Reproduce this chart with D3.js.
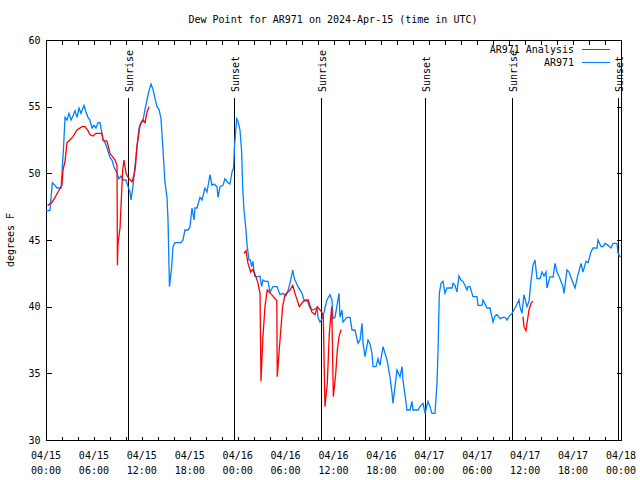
<!DOCTYPE html>
<html>
<head>
<meta charset="utf-8">
<script src="https://cdn.jsdelivr.net/npm/d3@7"></script>
<style>
  html, body { margin: 0; padding: 0; background: #fff; }
  svg { display: block; }
  text { font-family: "DejaVu Sans Mono", "Liberation Mono", monospace; font-size: 10px; fill: #000; }
</style>
</head>
<body>
<svg id="chart" width="640" height="480"></svg>
<script>
// ---------------- DATA ----------------
const title = "Dew Point for AR971 on 2024-Apr-15 (time in UTC)";
const yLabel = "degrees F";
const seriesNames = ["AR971 Analysis", "AR971"];
const seriesColors = ["#ff0000", "#0080ff"];
const startUTC = Date.UTC(2024, 3, 15, 0, 0);
const spanHours = 72;
const yTicks = [30, 35, 40, 45, 50, 55, 60];

// AR971 observations: hours since 2024-04-15 00:00 UTC, dew point (F)
const obsHours = [0,0.5,0.79,1.13,1.38,1.88,2.0,2.2,2.38,2.63,2.88,3.13,3.38,3.63,3.88,4.13,4.38,4.76,5.0,5.26,5.5,5.76,6.01,6.26,6.51,6.76,7.01,7.14,7.39,7.64,8.01,8.26,8.51,8.89,9.14,9.39,9.64,10.02,10.27,10.52,10.64,10.89,11.14,11.39,11.65,11.9,12.15,12.4,12.65,12.9,13.15,13.4,13.65,13.9,14.15,14.4,14.65,14.9,15.15,15.28,15.4,15.46,15.74,15.9,16.15,16.53,16.9,17.15,17.4,17.78,18.03,18.28,18.53,18.66,18.91,19.28,19.53,19.91,20.16,20.54,20.79,21.04,21.41,21.54,21.79,22.16,22.41,22.79,23.04,23.29,23.48,23.6,23.73,23.88,24.04,24.29,24.5,24.63,24.79,25.0,25.2,25.42,25.6,25.74,25.92,26.04,26.17,26.55,26.8,27.0,27.17,27.42,27.8,28.05,28.42,28.68,28.93,29.3,29.67,30.05,30.3,30.55,30.9,31.06,31.18,31.55,32.06,32.3,32.68,33.06,33.43,33.93,34.06,34.31,34.68,34.93,35.18,35.56,35.81,35.94,36.19,36.44,36.69,36.81,37.06,37.19,37.69,38.07,38.32,38.69,39.07,39.32,39.57,39.7,39.95,40.32,40.57,40.82,40.95,41.32,41.57,41.82,42.2,42.45,42.7,43.07,43.33,43.45,43.7,43.95,44.33,44.58,44.7,44.95,45.2,45.58,45.83,45.95,46.58,46.83,47.21,47.46,47.83,48.08,48.33,48.71,48.96,49.09,49.25,49.46,49.71,49.96,50.21,50.59,50.84,50.96,51.21,51.46,51.71,51.96,52.21,52.46,52.72,52.84,53.09,53.34,53.46,53.97,54.09,54.59,54.72,54.97,55.22,55.6,55.97,56.22,56.47,56.85,57.22,57.48,57.73,57.98,58.35,58.73,58.98,59.23,59.35,59.6,59.85,60.23,60.48,60.73,60.98,61.23,61.48,61.86,62.11,62.36,62.61,62.73,63.11,63.49,63.74,63.99,64.36,64.74,64.86,65.24,65.49,65.86,66.24,66.62,66.99,67.24,67.62,67.87,68.24,68.5,69.0,69.12,69.5,69.75,70.0,70.38,70.75,71.0,71.5,71.63,71.88,72.0];
const obsValues = [47.2,47.2,49.3,49.1,48.9,48.9,50.0,52.0,54.2,54.0,54.5,54.0,54.3,54.7,54.2,54.9,54.5,55.1,54.6,54.2,54.0,53.4,53.6,53.4,53.8,53.8,53.0,52.5,52.3,51.9,51.2,51.0,50.5,50.0,49.6,49.8,49.5,49.5,49.0,48.6,48.0,49.0,50.5,52.0,53.4,53.8,54.0,54.8,55.5,56.2,56.7,56.3,55.6,55.0,54.8,54.1,51.75,49.3,48.2,46.5,43.1,41.5,43.0,44.5,44.8,44.8,44.8,45.0,45.75,45.75,46.0,47.4,46.5,47.4,47.4,48.2,48.0,48.9,48.6,49.9,49.1,49.2,49.0,48.2,49.0,49.1,49.6,49.3,49.2,50.1,50.4,52.0,53.0,54.1,53.9,53.25,51.6,48.9,47.25,46.0,44.5,43.5,43.5,43.0,43.4,42.6,42.25,42.25,42.3,41.5,42.0,41.9,41.9,41.1,41.5,41.5,41.5,40.9,41.0,40.8,41.2,41.75,42.75,42.2,42.0,41.5,41.0,40.5,40.5,39.9,39.75,39.9,39.2,38.85,39.2,39.9,40.5,40.9,40.5,39.1,39.2,40.1,41.0,39.2,39.75,38.85,39.2,39.2,38.25,38.25,37.25,37.5,38.75,37.25,36.25,37.5,37.2,36.5,35.5,35.5,36.1,35.6,37.0,36.5,36.0,34.75,33.5,32.75,34.0,35.25,34.75,35.5,34.5,33.4,32.25,32.25,32.9,32.25,32.25,32.5,32.75,32.0,32.9,32.5,32.0,32.0,34.25,36.75,41.0,41.75,41.9,41.0,41.4,41.4,41.4,41.75,41.6,41.1,42.3,42.0,41.9,41.6,41.25,41.5,41.5,41.0,40.75,40.75,40.1,40.1,40.5,40.2,39.9,39.9,38.85,39.3,39.4,39.1,39.2,39.2,39.0,39.25,39.5,39.9,40.2,40.5,40.0,39.5,40.9,40.0,40.4,41.9,43.1,43.5,42.1,42.1,42.6,42.3,42.6,41.4,42.25,42.2,43.25,42.6,42.1,41.5,41.0,42.75,42.6,42.0,41.4,42.4,43.25,42.6,43.4,43.3,44.1,44.4,44.4,45.0,44.5,44.5,44.75,44.6,44.4,44.75,44.75,44.0,43.75,43.7];

// AR971 Analysis: null marks a gap
const anaHours = [0.2,0.71,1.13,1.5,2.0,2.13,2.38,2.63,3.0,3.38,3.88,4.51,4.88,5.26,5.5,5.89,6.26,6.51,7.01,7.14,7.64,8.01,8.39,8.64,8.89,8.92,8.94,9.02,9.27,9.39,9.6,9.77,10.02,10.27,10.77,11.02,11.2,11.39,11.77,12.15,12.4,12.65,12.9,
  13.0,
  24.79,25.04,25.29,25.63,25.92,26.29,26.55,26.8,26.92,27.14,27.42,27.7,28.26,28.68,28.9,28.96,29.3,29.63,29.93,30.55,30.89,31.18,31.72,32.22,32.85,33.28,33.68,33.97,34.52,34.72,34.93,35.22,35.48,35.78,35.98,36.28,36.48,36.69,36.94,37.0,
  37.2,
  59.73,59.85,60.1,60.23,60.48,60.73,60.98];
const anaValues = [47.6,47.8,48.2,48.6,49.1,50.25,50.9,52.3,52.5,52.75,53.25,53.5,53.5,53.2,52.9,52.8,53.0,53.0,53.0,52.5,52.4,51.5,51.2,51.0,50.6,47.1,43.1,44.75,45.9,47.5,50.25,51.0,50.0,49.7,49.35,49.9,50.5,52.0,53.6,54.0,53.8,54.6,55.0,
  null,
  44.0,44.2,43.25,42.6,42.8,42.25,41.75,41.0,34.4,37.5,40.0,41.25,40.9,40.6,40.5,34.75,37.5,40.0,40.9,41.25,41.6,41.0,40.0,40.4,40.5,39.6,39.4,40.0,39.6,39.25,32.5,34.25,38.0,40.0,33.25,35.0,36.75,37.75,38.25,38.25,
  null,
  39.25,38.5,38.2,38.75,39.75,40.25,40.4];

// Sunrise / sunset, hours since start
const sunHours = [10.3, 23.55, 34.4, 47.5, 58.3, 71.6];
const sunLabels = ["Sunrise", "Sunset", "Sunrise", "Sunset", "Sunrise", "Sunset"];

// ---------------- CHART ----------------
const svg = d3.select("#chart");
const L = 46, R = 621, T = 40, B = 440;
const H = 3600 * 1000;
const toDate = h => new Date(startUTC + h * H);

const x = d3.scaleUtc().domain([toDate(0), toDate(spanHours)]).range([L, R]);
const y = d3.scaleLinear().domain([30, 60]).range([B, T]);

// frame
svg.append("rect").attr("x", L + 0.5).attr("y", T + 0.5).attr("width", R - L).attr("height", B - T)
  .attr("fill", "none").attr("stroke", "#000").attr("stroke-width", 1).attr("shape-rendering", "crispEdges");

// x ticks every 2h
const xTickVals = d3.range(0, spanHours + 0.001, 2).map(toDate);
const xLabelEvery = 6;
const fmtDay = d3.utcFormat("%m/%d"), fmtTime = d3.utcFormat("%H:%M");

const xAxis = svg.append("g").attr("transform", `translate(0,${B + 0.5})`)
  .call(d3.axisBottom(x).tickValues(xTickVals).tickSize(-4).tickPadding(10).tickFormat(() => ""));
const xAxisTop = svg.append("g").attr("transform", `translate(0,${T + 0.5})`)
  .call(d3.axisTop(x).tickValues(xTickVals).tickSize(-4).tickFormat(() => ""));
[xAxis, xAxisTop].forEach(g => {
  g.select(".domain").remove();
  g.selectAll("line").attr("stroke", "#000").attr("shape-rendering", "crispEdges");
  g.selectAll("text").remove();
});

// x labels (two lines)
const labelDates = d3.range(0, spanHours + 0.001, xLabelEvery).map(toDate);
const xl = svg.append("g").selectAll("text").data(labelDates).join("text")
  .attr("x", d => x(d)).attr("y", 459).attr("text-anchor", "middle");
xl.append("tspan").attr("x", d => x(d)).attr("dy", 0).text(d => fmtDay(d));
xl.append("tspan").attr("x", d => x(d)).attr("dy", 15).text(d => fmtTime(d));

// y axes
const yAxisL = svg.append("g").attr("transform", `translate(${L + 0.5},0)`)
  .call(d3.axisLeft(y).tickValues(yTicks).tickSize(-5).tickPadding(8).tickFormat(d3.format("d")));
const yAxisR = svg.append("g").attr("transform", `translate(${R + 0.5},0)`)
  .call(d3.axisRight(y).tickValues(yTicks).tickSize(-5).tickFormat(() => ""));
[yAxisL, yAxisR].forEach(g => {
  g.select(".domain").remove();
  g.selectAll("line").attr("stroke", "#000").attr("shape-rendering", "crispEdges");
});
yAxisL.selectAll("text").attr("font-family", null).attr("font-size", null).attr("x", -6);
yAxisR.selectAll("text").remove();

// title & axis label
svg.append("text").attr("x", 333).attr("y", 23).attr("text-anchor", "middle").text(title);
svg.append("text").attr("transform", "translate(14,240) rotate(-90)").attr("text-anchor", "middle").text(yLabel);

// sunrise/sunset lines
const sun = svg.append("g");
sun.selectAll("line").data(sunHours).join("line")
  .attr("x1", d => Math.round(x(toDate(d))) + 0.5).attr("x2", d => Math.round(x(toDate(d))) + 0.5)
  .attr("y1", 98).attr("y2", B)
  .attr("stroke", "#000").attr("stroke-width", 1.2).attr("shape-rendering", "crispEdges");
sun.selectAll("text").data(sunHours).join("text")
  .attr("transform", d => `translate(${Math.round(x(toDate(d))) + 5},92) rotate(-90)`)
  .attr("text-anchor", "start").text((d, i) => sunLabels[i]);

// series lines
const obs = obsHours.map((h, i) => ({ t: toDate(h), v: obsValues[i] }));
const ana = anaHours.map((h, i) => ({ t: toDate(h), v: anaValues[i] }));
const line = d3.line().defined(d => d.v !== null).x(d => x(d.t)).y(d => y(d.v));

svg.append("path").datum(obs).attr("d", line).attr("fill", "none")
  .attr("stroke", seriesColors[1]).attr("stroke-width", 1.3).attr("stroke-linejoin", "miter");
svg.append("path").datum(ana).attr("d", line).attr("fill", "none")
  .attr("stroke", seriesColors[0]).attr("stroke-width", 1.3).attr("stroke-linejoin", "miter");

// legend
const leg = svg.append("g");
seriesNames.forEach((name, i) => {
  const yy = 49 + i * 13;
  leg.append("text").attr("x", 574).attr("y", yy + 4).attr("text-anchor", "end").text(name);
  leg.append("line").attr("x1", 582).attr("x2", 610).attr("y1", yy + 0.5).attr("y2", yy + 0.5)
    .attr("stroke", seriesColors[i]).attr("stroke-width", 1.2).attr("shape-rendering", "crispEdges");
});
</script>
</body>
</html>
